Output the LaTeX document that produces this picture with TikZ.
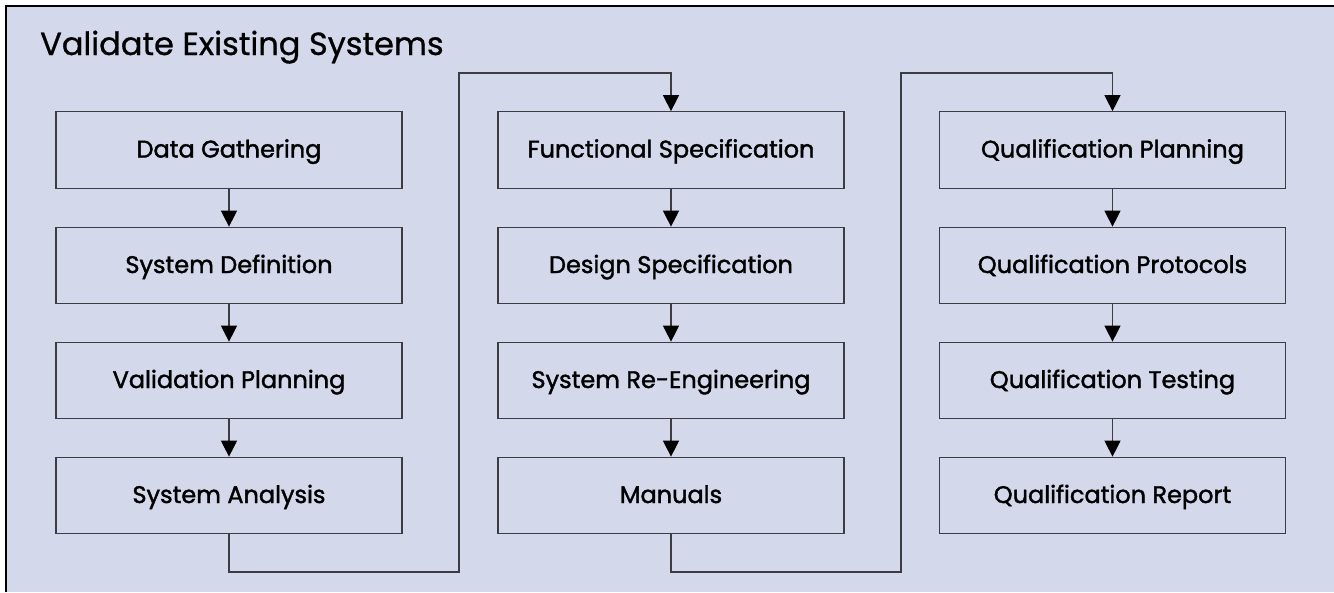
\documentclass[tikz,border=0pt]{standalone}
\usepackage{fontspec}
\setmainfont{Poppins}
\newfontfamily\boxfont{Poppins}[RawFeature={embolden=1.6}]
\newfontfamily\titlefont{Poppins}[RawFeature={embolden=0.8}]
\usetikzlibrary{arrows.meta}
\definecolor{bgcol}{RGB}{211,216,234}
\definecolor{linecol}{RGB}{60,60,66}
\tikzset{
  stepbox/.style={draw=linecol, line width=1.2pt, fill=bgcol, minimum width=346pt, minimum height=76.5pt, inner sep=0pt, text height=15pt, text depth=0pt, font=\boxfont\fontsize{24}{28}\selectfont},
  flow/.style={draw=linecol, line width=1.2pt, -{Triangle[width=16pt,length=16pt,black]}},
}
\begin{document}
\begin{tikzpicture}[x=1pt,y=-1pt]
\useasboundingbox (0,0) rectangle (1334,592);
\fill[bgcol] (6,6) rectangle (1334,592);
\draw[line width=1.8pt, black] (6,592) -- (6,6) -- (1334,6);
\node[anchor=base west, font=\titlefont\fontsize{32}{36}\selectfont, inner sep=0pt] (title) at (40,55) {Validate Existing Systems};
% column 1
\node[stepbox] (a1) at (229,150) {Data Gathering};
\node[stepbox] (a2) at (229,265.5) {System Definition};
\node[stepbox] (a3) at (229,380.5) {Validation Planning};
\node[stepbox] (a4) at (229,495.5) {System Analysis};
% column 2
\node[stepbox] (b1) at (671,150) {Functional Specification};
\node[stepbox] (b2) at (671,265.5) {Design Specification};
\node[stepbox] (b3) at (671,380.5) {System Re-Engineering};
\node[stepbox] (b4) at (671,495.5) {Manuals};
% column 3
\node[stepbox] (c1) at (1112.5,150) {Qualification Planning};
\node[stepbox] (c2) at (1112.5,265.5) {Qualification Protocols};
\node[stepbox] (c3) at (1112.5,380.5) {Qualification Testing};
\node[stepbox] (c4) at (1112.5,495.5) {Qualification Report};
% vertical arrows
\foreach \p/\q in {a1/a2,a2/a3,a3/a4,b1/b2,b2/b3,b3/b4,c1/c2,c2/c3,c3/c4}
  \draw[flow] (\p.south) -- (\q.north);
% loop connectors
\coordinate (j1) at (459,572);
\coordinate (j2) at (459,73);
\coordinate (k1) at (901,572);
\coordinate (k2) at (901,73);
\draw[flow] (a4.south) |- (j1) -- (j2) -| (b1.north);
\draw[flow] (b4.south) |- (k1) -- (k2) -| (c1.north);
\end{tikzpicture}
\end{document}
